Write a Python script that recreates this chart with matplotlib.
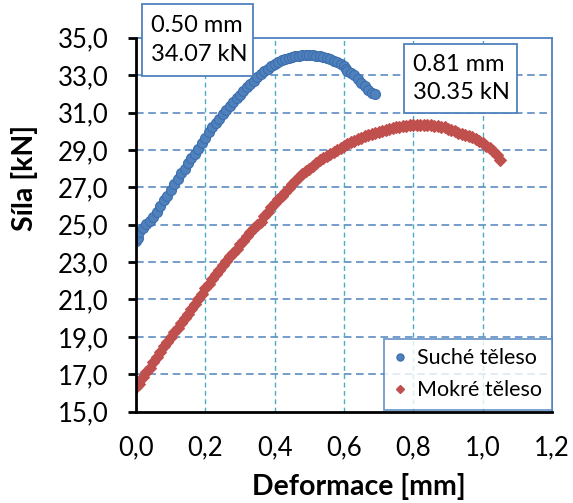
import matplotlib
matplotlib.use("Agg")
import matplotlib.pyplot as plt
from matplotlib.patches import Rectangle
from matplotlib.lines import Line2D

# ---------------- data ----------------
dry_x = [0.000, 0.005, 0.010, 0.020, 0.030, 0.040, 0.050, 0.060, 0.070, 0.080,
         0.090, 0.100, 0.110, 0.120, 0.130, 0.140, 0.150, 0.160, 0.170, 0.180,
         0.190, 0.200, 0.210, 0.220, 0.230, 0.240, 0.250, 0.260, 0.270, 0.280,
         0.290, 0.300, 0.310, 0.320, 0.330, 0.340, 0.350, 0.360, 0.370, 0.380,
         0.390, 0.400, 0.410, 0.420, 0.430, 0.440, 0.450, 0.460, 0.470, 0.480,
         0.490, 0.500, 0.510, 0.520, 0.530, 0.540, 0.550, 0.560, 0.570, 0.580,
         0.590, 0.600, 0.605, 0.610, 0.620, 0.630, 0.640, 0.650, 0.660, 0.670,
         0.680, 0.690]
dry_y = [24.15, 24.30, 24.60, 24.85, 25.05, 25.20, 25.40, 25.70, 26.00, 26.30,
         26.55, 26.85, 27.15, 27.45, 27.75, 28.00, 28.30, 28.55, 28.80, 29.05,
         29.35, 29.65, 29.95, 30.20, 30.45, 30.65, 30.90, 31.15, 31.35, 31.55,
         31.75, 31.95, 32.15, 32.35, 32.50, 32.70, 32.90, 33.05, 33.20, 33.35,
         33.50, 33.62, 33.72, 33.80, 33.87, 33.92, 33.97, 34.00, 34.03, 34.05,
         34.07, 34.07, 34.06, 34.04, 34.01, 33.97, 33.92, 33.86, 33.78, 33.70,
         33.60, 33.50, 33.30, 33.22, 33.10, 33.00, 32.80, 32.60, 32.40, 32.20,
         32.05, 32.00]

wet_x = [0.00, 0.01, 0.02, 0.03, 0.04, 0.05, 0.06, 0.07, 0.08, 0.09,
         0.10, 0.11, 0.12, 0.13, 0.14, 0.15, 0.16, 0.17, 0.18, 0.19,
         0.20, 0.21, 0.22, 0.23, 0.24, 0.25, 0.26, 0.27, 0.28, 0.29,
         0.30, 0.31, 0.32, 0.33, 0.34, 0.35, 0.36, 0.37, 0.38, 0.39,
         0.40, 0.41, 0.42, 0.43, 0.44, 0.45, 0.46, 0.47, 0.48, 0.49,
         0.50, 0.51, 0.52, 0.53, 0.54, 0.55, 0.56, 0.57, 0.58, 0.59,
         0.60, 0.61, 0.62, 0.63, 0.64, 0.65, 0.66, 0.67, 0.68, 0.69,
         0.70, 0.71, 0.72, 0.73, 0.74, 0.75, 0.76, 0.77, 0.78, 0.79,
         0.80, 0.81, 0.82, 0.83, 0.84, 0.85, 0.86, 0.87, 0.88, 0.89,
         0.90, 0.91, 0.92, 0.93, 0.94, 0.95, 0.96, 0.97, 0.98, 0.99,
         1.00, 1.01, 1.02, 1.03, 1.04, 1.05]
wet_y = [16.30, 16.50, 16.85, 17.10, 17.35, 17.65, 17.95, 18.20, 18.50, 18.75,
         19.00, 19.25, 19.50, 19.75, 20.00, 20.25, 20.50, 20.75, 21.05, 21.30,
         21.60, 21.85, 22.10, 22.35, 22.60, 22.85, 23.05, 23.30, 23.50, 23.70,
         23.95, 24.15, 24.40, 24.60, 24.85, 25.00, 25.15, 25.45, 25.70, 25.95,
         26.15, 26.35, 26.55, 26.75, 26.95, 27.15, 27.35, 27.55, 27.70, 27.85,
         28.00, 28.15, 28.30, 28.45, 28.55, 28.70, 28.80, 28.90, 29.00, 29.10,
         29.20, 29.30, 29.40, 29.50, 29.57, 29.65, 29.72, 29.80, 29.85, 29.92,
         29.97, 30.02, 30.07, 30.12, 30.16, 30.20, 30.24, 30.27, 30.30, 30.32,
         30.34, 30.35, 30.35, 30.34, 30.33, 30.32, 30.30, 30.28, 30.25, 30.20,
         30.14, 30.08, 30.00, 29.93, 29.87, 29.82, 29.77, 29.70, 29.60, 29.48,
         29.35, 29.22, 29.10, 28.95, 28.75, 28.45]

series_names = ["Suché těleso", "Mokré těleso"]
x_ticks = [0.0, 0.2, 0.4, 0.6, 0.8, 1.0, 1.2]
y_ticks = [15, 17, 19, 21, 23, 25, 27, 29, 31, 33, 35]
peak_labels = ["0.50 mm\n34.07 kN", "0.81 mm\n30.35 kN"]
x_label = "Deformace [mm]"
y_label = "Síla [kN]"

# ---------------- style ----------------
FONT = ["Lato", "DejaVu Sans"]
plt.rcParams["font.family"] = FONT
BLUE = "#4f81bd"
BLUE_EDGE = "#3d6fae"
RED = "#c0504d"
TEAL = "#4bacc6"

W, H = 573, 503
fig = plt.figure(figsize=(W / 100, H / 100), dpi=100)

def fx(px):
    return px / W

def fy(py):
    return 1 - py / H

ax_l, ax_r, ax_t, ax_b = 136, 552, 37.7, 411.7
ax = fig.add_axes([fx(ax_l), fy(ax_b), fx(ax_r) - fx(ax_l), fy(ax_t) - fy(ax_b)])

ax.set_xlim(0, 1.2)
ax.set_ylim(15, 35)

# grid
for yv in y_ticks[1:-1]:
    ax.axhline(yv, color=BLUE, lw=1.1, ls=(0, (5, 3)), zorder=1)
for xv in x_ticks[1:-1]:
    ax.axvline(xv, color=TEAL, lw=1.0, ls=(0, (3.5, 2.5)), zorder=1)

ax.plot(dry_x, dry_y, ls="none", marker="o", ms=7.2, mfc=BLUE, mec=BLUE_EDGE,
        mew=0.8, zorder=3)
ax.plot(wet_x, wet_y, ls="none", marker="D", ms=6.3, mfc=RED, mec=RED,
        mew=0.8, zorder=3)

# spines
for s in ["top", "right"]:
    ax.spines[s].set_color(BLUE)
    ax.spines[s].set_linewidth(1.3)
for s in ["left", "bottom"]:
    ax.spines[s].set_color("black")
    ax.spines[s].set_linewidth(2.0)
    ax.spines[s].set_zorder(4)

ax.set_xticks(x_ticks)
ax.set_yticks(y_ticks)
ax.set_xticklabels([f"{v:.1f}".replace(".", ",") for v in x_ticks])
ax.set_yticklabels([f"{v:.1f}".replace(".", ",") for v in y_ticks])
ax.tick_params(axis="y", direction="out", length=6, width=2, pad=14,
               labelsize=18.5, colors="black")
ax.tick_params(axis="x", length=0, pad=17, labelsize=18.5)

# axis labels
fig.text(fx(24), fy(178), y_label, rotation=90, ha="center", va="center",
         fontsize=20.5, fontweight="bold")
fig.text(fx(359), fy(487), x_label, ha="center", va="center",
         fontsize=20.5, fontweight="bold")

# annotation boxes
boxes = [(142, 4, 253, 76), (404, 44, 517, 113)]
for (x0, y0, x1, y1), txt in zip(boxes, peak_labels):
    rect = Rectangle((fx(x0), fy(y1)), fx(x1) - fx(x0), fy(y0) - fy(y1),
                     transform=fig.transFigure, facecolor="white",
                     edgecolor=BLUE, lw=1.3, zorder=5)
    fig.add_artist(rect)
    fig.text(fx(x0 + 9), fy((y0 + y1) / 2), txt, ha="left", va="center",
             fontsize=17, linespacing=1.45, zorder=6)

# legend
handles = [
    Line2D([], [], ls="none", marker="o", ms=5, mfc=BLUE, mec=BLUE_EDGE),
    Line2D([], [], ls="none", marker="D", ms=4.5, mfc=RED, mec=RED),
]
leg = ax.legend(handles, series_names, loc="lower right",
                bbox_to_anchor=(1.0, 0.005), fontsize=15.5, frameon=True,
                fancybox=False, edgecolor=BLUE, handlelength=0.6,
                handletextpad=0.5, borderpad=0.45, labelspacing=0.55,
                borderaxespad=0.0)
leg.get_frame().set_linewidth(1.3)
leg.set_zorder(6)

fig.savefig("out.png", dpi=100)
